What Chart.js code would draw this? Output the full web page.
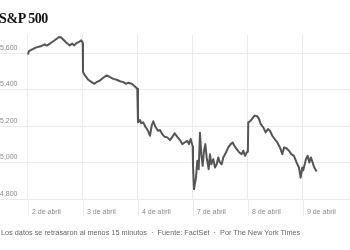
<!DOCTYPE html>
<html>
<head>
<meta charset="utf-8">
<script src="https://cdn.jsdelivr.net/npm/chart.js@4.4.1/dist/chart.umd.min.js"></script>
<style>
  html, body { margin: 0; padding: 0; background: #fff; }
  #wrap { position: relative; width: 350px; height: 250px; overflow: hidden; }
  #sp-chart { position: absolute; left: 0; top: 0; }
  .title {
    position: absolute; left: -1px; top: 11px;
    font: bold 14px "Liberation Serif", serif; letter-spacing: -0.4px; color: #121212;
  }
  .note {
    position: absolute; left: 1px; top: 228px; white-space: nowrap;
    font: 7.3px "Liberation Sans", sans-serif; color: #666;
  }
</style>
</head>
<body>
<div id="wrap">
  <canvas id="sp-chart" width="350" height="250"></canvas>
  <div class="title">S&amp;P 500</div>
  <div class="note">Los datos se retrasaron al menos 15 minutos &nbsp;·&nbsp; Fuente: FactSet &nbsp;·&nbsp; Por The New York Times</div>
</div>
<script>
// trading days shown on the x axis
var dayLabels = ['2 de abril', '3 de abril', '4 de abril', '7 de abril', '8 de abril', '9 de abril'];
var yTicks = [4800, 5000, 5200, 5400, 5600];

// position in trading days (day index + fraction of the session) and index level
var sessionPos = [
  0.000, 0.018, 0.140, 0.231, 0.304, 0.340, 0.413, 0.485, 0.564, 0.605, 0.685, 0.758, 0.805, 0.836, 0.885, 0.927, 0.969, 0.995,
  1.000, 1.036, 1.096, 1.158, 1.200, 1.249, 1.309, 1.369, 1.431, 1.491, 1.551, 1.613, 1.673, 1.733, 1.782, 1.824, 1.885, 1.945, 1.987,
  2.000, 2.036, 2.060, 2.096, 2.140, 2.182, 2.218, 2.249, 2.278, 2.322, 2.364, 2.400, 2.442, 2.485, 2.533, 2.582, 2.624, 2.667, 2.715, 2.764, 2.805, 2.849, 2.896, 2.927, 2.958, 2.995,
  3.000, 3.018, 3.055, 3.078, 3.104, 3.127, 3.151, 3.176, 3.200, 3.224, 3.249, 3.285, 3.309, 3.333, 3.369, 3.400, 3.431, 3.460, 3.491, 3.522, 3.551, 3.600, 3.642, 3.685, 3.722, 3.751, 3.795, 3.842, 3.885, 3.915, 3.945, 3.976, 3.998,
  4.005, 4.049, 4.096, 4.122, 4.169, 4.200, 4.231, 4.278, 4.322, 4.364, 4.400, 4.442, 4.485, 4.533, 4.582, 4.624, 4.655, 4.704, 4.745, 4.787, 4.836, 4.885, 4.927, 4.958, 4.987,
  5.005, 5.055, 5.085, 5.115, 5.145, 5.176, 5.205, 5.249
];
var sp500 = [
  5594, 5612, 5631, 5638, 5649, 5642, 5656, 5671, 5689, 5686, 5662, 5643, 5653, 5643, 5656, 5662, 5671, 5656,
  5497, 5479, 5455, 5442, 5433, 5442, 5451, 5466, 5479, 5469, 5460, 5455, 5447, 5442, 5433, 5439, 5433, 5418, 5406,
  5222, 5235, 5217, 5222, 5195, 5176, 5149, 5204, 5228, 5195, 5176, 5180, 5158, 5143, 5140, 5125, 5143, 5162, 5143, 5125, 5103, 5112, 5121, 5103, 5131, 5090,
  4990, 4856, 4920, 5012, 4966, 5165, 5048, 4984, 5067, 5103, 5030, 4966, 5048, 4993, 5021, 4975, 4993, 5030, 5002, 4993, 5030, 5057, 5085, 5103, 5112, 5094, 5076, 5057, 5048, 5067, 5039, 5057, 5062,
  5222, 5231, 5249, 5259, 5255, 5241, 5213, 5195, 5167, 5186, 5176, 5149, 5131, 5112, 5085, 5048, 5085, 5079, 5067, 5048, 5039, 5002, 4975, 4920, 4975,
  4960, 5021, 5039, 5002, 5030, 5002, 4975, 4953
];

var points = sessionPos.map(function (t, i) { return { x: t, y: sp500[i] }; });

// day separators run on through the date labels
var longDayLines = {
  id: 'longDayLines',
  afterDraw: function (chart) {
    var sx = chart.scales.x, c = chart.ctx;
    c.save();
    c.strokeStyle = '#ebebeb';
    c.lineWidth = 1;
    sx.ticks.forEach(function (t, i) {
      var px = Math.round(sx.getPixelForTick(i)) + 0.5;
      c.beginPath();
      c.moveTo(px, chart.chartArea.bottom);
      c.lineTo(px, chart.chartArea.bottom + 17);
      c.stroke();
    });
    c.restore();
  }
};

var ctx = document.getElementById('sp-chart').getContext('2d');
var chart = new Chart(ctx, {
  type: 'line',
  data: {
    datasets: [{
      data: points,
      borderColor: '#555555',
      borderWidth: 2,
      pointRadius: 0,
      tension: 0,
      borderJoinStyle: 'round'
    }]
  },
  plugins: [longDayLines],
  options: {
    responsive: false,
    animation: false,
    events: [],
    layout: { padding: { top: 35, left: 0, right: 0, bottom: 25.1 } },
    plugins: { legend: { display: false }, tooltip: { enabled: false } },
    scales: {
      x: {
        type: 'linear',
        min: -0.509,
        max: 5.855,
        afterBuildTicks: function (axis) {
          axis.ticks = dayLabels.map(function (d, i) { return { value: i }; });
        },
        border: { display: false },
        grid: { color: '#ebebeb', lineWidth: 1, drawTicks: false },
        ticks: {
          align: 'start',
          labelOffset: 4,
          padding: 8.5,
          maxRotation: 0,
          autoSkip: false,
          color: '#8a8a8a',
          font: { family: 'Liberation Sans', size: 7 },
          callback: function (v) { return dayLabels[Math.round(v)]; }
        }
      },
      y: {
        min: 4800,
        max: 5700,
        afterBuildTicks: function (axis) {
          axis.ticks = yTicks.map(function (v) { return { value: v }; });
        },
        border: { display: false },
        grid: { color: '#ebebeb', lineWidth: 1, drawTicks: false },
        ticks: {
          mirror: true,
          padding: 0,
          labelOffset: -5.5,
          color: '#8a8a8a',
          font: { family: 'Liberation Sans', size: 7 },
          callback: function (v) { return v.toLocaleString('en-US'); }
        }
      }
    }
  }
});
</script>
</body>
</html>
